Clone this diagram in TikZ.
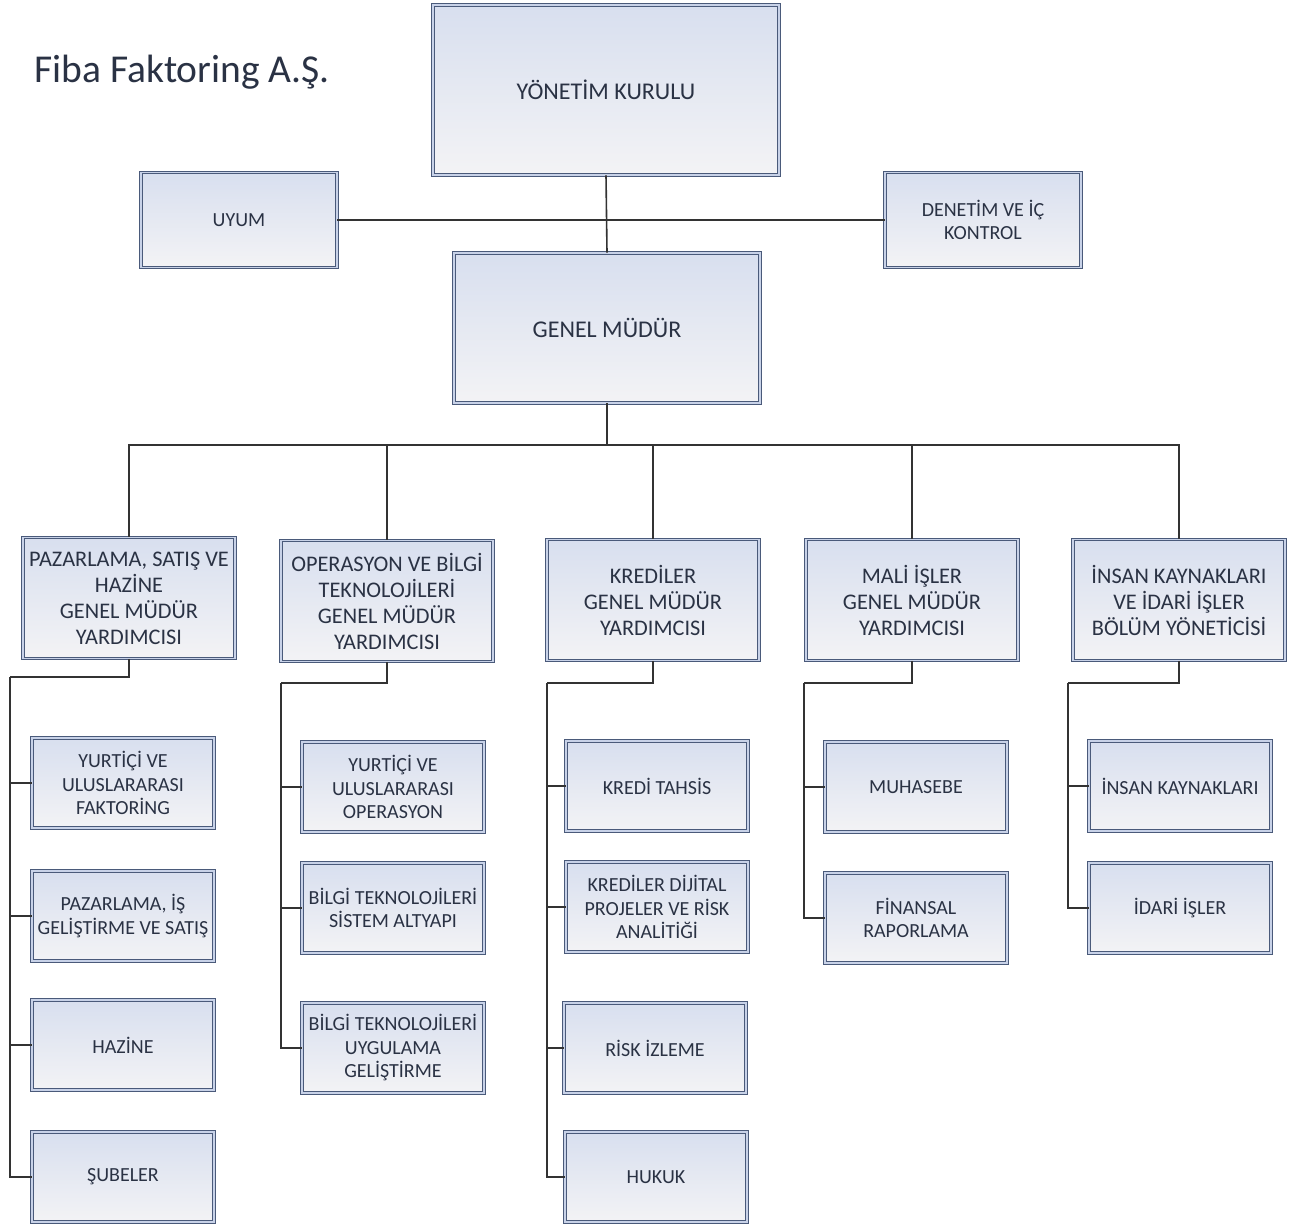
\documentclass[tikz,border=0pt]{standalone}
\usepackage{fontspec}
\setmainfont{Carlito}
\definecolor{boxline}{HTML}{4A5A7A}
\definecolor{boxgap}{HTML}{C8D2E8}
\definecolor{boxtop}{HTML}{D8DFEF}
\definecolor{boxbot}{HTML}{F3F3F5}
\definecolor{ink}{HTML}{2A3244}
\definecolor{linkcol}{HTML}{333333}

\begin{document}
\begin{tikzpicture}[x=1pt,y=-1pt,box/.style={rectangle,draw=boxline,double=boxgap,double distance=1.6pt,line width=0.9pt,top color=boxtop,bottom color=boxbot,text=ink,align=center,inner sep=0pt},big/.style={box,font=\fontsize{24}{28}\selectfont},vp/.style={box,font=\fontsize{22.3}{26}\selectfont,minimum width=212pt,minimum height=121pt},unit/.style={box,font=\fontsize{20}{23.5}\selectfont,minimum width=182pt,minimum height=90pt},link/.style={draw=linkcol,line width=1.6pt}]
        \useasboundingbox (0,0) rectangle (1306,1228);
        \node[anchor=west,text=ink,font=\fontsize{39.5}{42}\selectfont] (title) at (31,72) {Fiba Faktoring A.Ş.};

        \node[big,minimum width=346pt,minimum height=170pt] (yk) at (606,90) {YÖNETİM KURULU};
        \node[unit,minimum width=196pt,minimum height=95pt] (uyum) at (239,220) {UYUM};
        \node[unit,minimum width=196pt,minimum height=95pt] (denetim) at (983,220) {DENETİM VE İÇ\\KONTROL};
        \node[big,minimum width=306pt,minimum height=150pt] (gm) at (607,328) {GENEL MÜDÜR};

        \draw[link] (yk.south) -- (gm.north);
        \draw[link] (uyum.east) -- (denetim.west);

        \node[vp] (p1) at (129,598) {PAZARLAMA, SATIŞ VE\\HAZİNE\\GENEL MÜDÜR\\YARDIMCISI};
        \node[vp] (p2) at (387,601) {OPERASYON VE BİLGİ\\TEKNOLOJİLERİ\\GENEL MÜDÜR\\YARDIMCISI};
        \node[vp] (p3) at (653,600) {KREDİLER\\GENEL MÜDÜR\\YARDIMCISI};
        \node[vp] (p4) at (912,600) {MALİ İŞLER\\GENEL MÜDÜR\\YARDIMCISI};
        \node[vp] (p5) at (1179,600) {İNSAN KAYNAKLARI\\VE İDARİ İŞLER\\BÖLÜM YÖNETİCİSİ};

        \coordinate (bus) at (607,445);
        \draw[link] (gm.south) -- (bus);
        \foreach \p in {p1,p2,p3,p4,p5}
            \draw[link] (bus) -| (\p.north);

        % pazarlama
        \node[unit] (p1a) at (123,783) {YURTİÇİ VE\\ULUSLARARASI\\FAKTORİNG};
        \node[unit] (p1b) at (123,916) {PAZARLAMA, İŞ\\GELİŞTİRME VE SATIŞ};
        \node[unit] (p1c) at (123,1045) {HAZİNE};
        \node[unit] (p1d) at (123,1177) {ŞUBELER};
        \coordinate (r1) at (10,677);
        \draw[link] (p1.south) |- (r1);
        \foreach \c in {p1a,p1b,p1c,p1d}
            \draw[link] (r1) |- (\c.west);

        % operasyon
        \node[unit] (p2a) at (393,787) {YURTİÇİ VE\\ULUSLARARASI\\OPERASYON};
        \node[unit] (p2b) at (393,908) {BİLGİ TEKNOLOJİLERİ\\SİSTEM ALTYAPI};
        \node[unit] (p2c) at (393,1048) {BİLGİ TEKNOLOJİLERİ\\UYGULAMA\\GELİŞTİRME};
        \coordinate (r2) at (281,683);
        \draw[link] (p2.south) |- (r2);
        \foreach \c in {p2a,p2b,p2c}
            \draw[link] (r2) |- (\c.west);

        % krediler
        \node[unit] (p3a) at (657,786) {KREDİ TAHSİS};
        \node[unit] (p3b) at (657,907) {KREDİLER DİJİTAL\\PROJELER VE RİSK\\ANALİTİĞİ};
        \node[unit] (p3c) at (655,1048) {RİSK İZLEME};
        \node[unit] (p3d) at (656,1177) {HUKUK};
        \coordinate (r3) at (547,683);
        \draw[link] (p3.south) |- (r3);
        \foreach \c in {p3a,p3b,p3c,p3d}
            \draw[link] (r3) |- (\c.west);

        % mali isler
        \node[unit] (p4a) at (916,787) {MUHASEBE};
        \node[unit] (p4b) at (916,918) {FİNANSAL\\RAPORLAMA};
        \coordinate (r4) at (804,683);
        \draw[link] (p4.south) |- (r4);
        \foreach \c in {p4a,p4b}
            \draw[link] (r4) |- (\c.west);

        % insan kaynaklari
        \node[unit] (p5a) at (1180,786) {İNSAN KAYNAKLARI};
        \node[unit] (p5b) at (1180,908) {İDARİ İŞLER};
        \coordinate (r5) at (1068,683);
        \draw[link] (p5.south) |- (r5);
        \foreach \c in {p5a,p5b}
            \draw[link] (r5) |- (\c.west);
    \end{tikzpicture}
\end{document}
